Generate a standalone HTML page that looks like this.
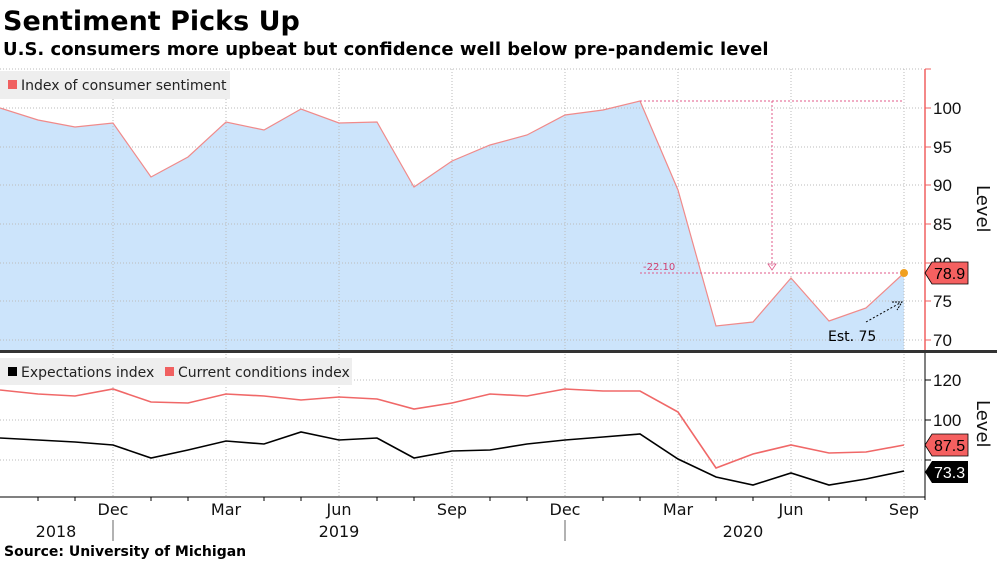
<!DOCTYPE html>
<html><head><meta charset="utf-8"><style>
body{margin:0;background:#fff;width:997px;height:561px;overflow:hidden;font-family:"DejaVu Sans","Liberation Sans",sans-serif}
</style></head><body>
<svg width="997" height="561" xmlns="http://www.w3.org/2000/svg" font-family="DejaVu Sans, Liberation Sans, sans-serif">
<text x="3" y="30" font-size="27" font-weight="bold" fill="#000">Sentiment Picks Up</text>
<text x="3" y="55" font-size="18" font-weight="bold" fill="#000">U.S. consumers more upbeat but confidence well below pre-pandemic level</text>
<polygon fill="#cce4fb" points="0,351 0,108 38,120 75,127 113,123 151,177 188,157 226,122 264,130 301,109 339,123 377,122 414,187 452,161 490,145 527,135 565,115 603,110 640,101 678,190 716,326 753,322 791,278 829,321 866,308 904,273 904,351"/>
<g stroke="#bbb" stroke-width="1" stroke-dasharray="1,2">
<line x1="0" y1="69" x2="922" y2="69"/>
<line x1="0" y1="108" x2="922" y2="108"/><line x1="0" y1="147" x2="922" y2="147"/><line x1="0" y1="185" x2="922" y2="185"/><line x1="0" y1="224" x2="922" y2="224"/><line x1="0" y1="263" x2="922" y2="263"/><line x1="0" y1="301" x2="922" y2="301"/><line x1="0" y1="340" x2="922" y2="340"/>
<line x1="0" y1="380" x2="922" y2="380"/><line x1="0" y1="420" x2="922" y2="420"/><line x1="0" y1="460" x2="922" y2="460"/>
<line x1="113" y1="69" x2="113" y2="497"/><line x1="226" y1="69" x2="226" y2="497"/><line x1="339" y1="69" x2="339" y2="497"/><line x1="452" y1="69" x2="452" y2="497"/><line x1="565" y1="69" x2="565" y2="497"/><line x1="678" y1="69" x2="678" y2="497"/><line x1="791" y1="69" x2="791" y2="497"/><line x1="904" y1="69" x2="904" y2="497"/>
</g>
<polyline fill="none" stroke="#f08a8a" stroke-width="1.2" points="0,108 38,120 75,127 113,123 151,177 188,157 226,122 264,130 301,109 339,123 377,122 414,187 452,161 490,145 527,135 565,115 603,110 640,101 678,190 716,326 753,322 791,278 829,321 866,308 904,273"/>
<g stroke="#e05a8a" stroke-width="1" stroke-dasharray="2,2" fill="none">
<line x1="640" y1="101" x2="904" y2="101"/><line x1="640" y1="273" x2="904" y2="273"/><line x1="772" y1="101" x2="772" y2="266"/>
</g>
<path d="M768,264 L776,264 L772,270 Z" fill="none" stroke="#e05a8a" stroke-width="0.8"/>
<text x="643" y="270" font-size="10" fill="#d04070">-22.10</text>
<circle cx="904" cy="273" r="4" fill="#f0a020"/>
<line x1="866" y1="322" x2="900" y2="303" stroke="#000" stroke-dasharray="2,2"/>
<path d="M892,302 L902,302 L897,310" fill="none" stroke="#000" stroke-width="1" stroke-dasharray="2,1"/>
<text x="828" y="341" font-size="14" fill="#000">Est. 75</text>
<rect x="0" y="71" width="230" height="28" fill="#eee"/>
<rect x="8" y="80" width="9" height="9" fill="#f06060"/>
<text x="21" y="90" font-size="14" fill="#222">Index of consumer sentiment</text>
<line x1="925" y1="69" x2="925" y2="350" stroke="#f06060" stroke-width="1.5"/>
<g stroke="#f06060"><line x1="925" y1="69" x2="931" y2="69"/><line x1="925" y1="108" x2="931" y2="108"/><line x1="925" y1="147" x2="931" y2="147"/><line x1="925" y1="185" x2="931" y2="185"/><line x1="925" y1="224" x2="931" y2="224"/><line x1="925" y1="263" x2="931" y2="263"/><line x1="925" y1="301" x2="931" y2="301"/><line x1="925" y1="340" x2="931" y2="340"/></g>
<g font-size="17" fill="#111" font-family="Liberation Sans, sans-serif"><text x="933" y="114">100</text><text x="933" y="153">95</text><text x="933" y="191">90</text><text x="933" y="230">85</text><text x="933" y="269">80</text><text x="933" y="307">75</text><text x="933" y="346">70</text></g>
<text x="977" y="185" font-size="18" fill="#111" transform="rotate(90 977 185)">Level</text>
<path d="M925,273 L932,262 L968,262 L968,284 L932,284 Z" fill="#f56060" stroke="#000" stroke-width="0.8"/>
<text x="934" y="279" font-size="16" fill="#000" font-family="Liberation Sans, sans-serif">78.9</text>
<rect x="0" y="350" width="997" height="3" fill="#333"/>
<rect x="0" y="358" width="352" height="27" fill="#eee"/>
<rect x="8" y="367" width="9" height="9" fill="#000"/>
<text x="21" y="377" font-size="14" fill="#222">Expectations index</text>
<rect x="165" y="367" width="9" height="9" fill="#f06060"/>
<text x="178" y="377" font-size="14" fill="#222">Current conditions index</text>
<polyline fill="none" stroke="#f06868" stroke-width="1.6" points="0,390 38,394 75,396 113,389 151,402 188,403 226,394 264,396 301,400 339,397 377,399 414,409 452,403 490,394 527,396 565,389 603,391 640,391 678,412 716,468 753,454 791,445 829,453 866,452 904,445"/>
<polyline fill="none" stroke="#000" stroke-width="1.6" points="0,438 38,440 75,442 113,445 151,458 188,450 226,441 264,444 301,432 339,440 377,438 414,458 452,451 490,450 527,444 565,440 603,437 640,434 678,459 716,477 753,485 791,473 829,485 866,479 904,471"/>
<line x1="925" y1="353" x2="925" y2="500" stroke="#000"/>
<g stroke="#000"><line x1="925" y1="380" x2="931" y2="380"/><line x1="925" y1="420" x2="931" y2="420"/><line x1="925" y1="460" x2="931" y2="460"/></g>
<g font-size="17" fill="#111" font-family="Liberation Sans, sans-serif"><text x="933" y="386">120</text><text x="933" y="426">100</text></g>
<text x="977" y="400" font-size="18" fill="#111" transform="rotate(90 977 400)">Level</text>
<path d="M925,445 L932,434 L968,434 L968,456 L932,456 Z" fill="#f56060" stroke="#000" stroke-width="0.8"/>
<text x="934" y="451" font-size="16" fill="#000" font-family="Liberation Sans, sans-serif">87.5</text>
<path d="M925,472 L932,461 L968,461 L968,483 L932,483 Z" fill="#000"/>
<text x="934" y="478" font-size="16" fill="#fff" font-family="Liberation Sans, sans-serif">73.3</text>
<line x1="0" y1="497" x2="925" y2="497" stroke="#000"/>
<g stroke="#000"><line x1="38" y1="497" x2="38" y2="501"/><line x1="75" y1="497" x2="75" y2="501"/><line x1="151" y1="497" x2="151" y2="501"/><line x1="188" y1="497" x2="188" y2="501"/><line x1="264" y1="497" x2="264" y2="501"/><line x1="301" y1="497" x2="301" y2="501"/><line x1="377" y1="497" x2="377" y2="501"/><line x1="414" y1="497" x2="414" y2="501"/><line x1="490" y1="497" x2="490" y2="501"/><line x1="527" y1="497" x2="527" y2="501"/><line x1="603" y1="497" x2="603" y2="501"/><line x1="640" y1="497" x2="640" y2="501"/><line x1="716" y1="497" x2="716" y2="501"/><line x1="753" y1="497" x2="753" y2="501"/><line x1="829" y1="497" x2="829" y2="501"/><line x1="866" y1="497" x2="866" y2="501"/></g>
<g stroke="#666"><line x1="113" y1="520" x2="113" y2="541"/><line x1="565" y1="520" x2="565" y2="541"/></g>
<g font-size="16" fill="#111" text-anchor="middle"><text x="113" y="515">Dec</text><text x="226" y="515">Mar</text><text x="339" y="515">Jun</text><text x="452" y="515">Sep</text><text x="565" y="515">Dec</text><text x="678" y="515">Mar</text><text x="791" y="515">Jun</text><text x="904" y="515">Sep</text>
<text x="56" y="537">2018</text><text x="339" y="537">2019</text><text x="743" y="537">2020</text></g>
<text x="4" y="556" font-size="14" font-weight="bold" fill="#000">Source: University of Michigan</text>
</svg>
</body></html>
